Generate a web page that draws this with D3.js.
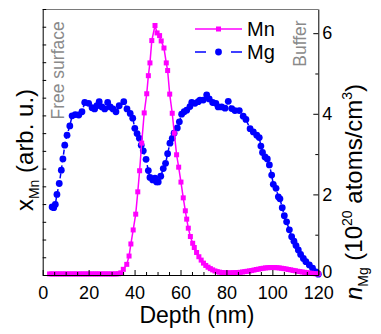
<!DOCTYPE html>
<html><head><meta charset="utf-8">
<script src="https://cdn.jsdelivr.net/npm/d3@7"></script>
<style>
body{margin:0;background:#fff;}
text{font-family:"Liberation Sans",Arial,Helvetica,sans-serif;}
</style>
</head><body>
<svg id="chart" width="381" height="334"></svg>
<script>
// ---------- data ----------
const mnDepth = [3,4,5,6,7,8,9,10,11,12,13,14,15,16,17,18,19,20,21,22,23,24,25,26,27,28,29,30,31,32,33,
  34,35.1,36.6,37.6,38.4,39.4,40.5,41.4,42.2,43.1,44.2,45.3,46.0,46.7,47.5,48.9,49.8,50.9,51.6,52.8,53.8,54.4,55.3,56.4,57.3,
  58.3,59.2,60.2,61.2,62.1,62.7,63.4,64.3,65.3,
  66,67,68,69,70,71,72,73,74,75,76,77,78,79,80,81,82,83,84,85,86,87,88,89,90,91,92,93,94,95,96,97,98,99,100,
  101,102,103,104,105,106,107,108,109,110,111,112,113,114,115,116,117,118,119,120];
const mnValue = [0.06,0.06,0.06,0.06,0.06,0.06,0.06,0.06,0.06,0.06,0.06,0.06,0.06,0.06,0.06,0.06,0.06,0.06,0.06,0.06,0.06,0.06,0.06,0.06,0.06,0.06,0.06,0.06,0.06,0.06,0.07,
  0.12,0.32,0.60,1.07,1.75,2.54,3.43,4.69,5.88,7.44,9.14,10.22,11.24,11.96,13.22,14.07,13.65,13.5,13.2,12.8,11.96,11.53,10.2,9.12,8.0,
  6.78,6.08,5.24,4.35,3.62,3.15,2.64,2.17,1.79,
  1.55,1.27,1.03,0.84,0.67,0.54,0.44,0.36,0.29,0.23,0.19,0.16,0.14,0.13,0.12,0.12,0.12,0.13,0.13,0.14,0.15,0.17,0.19,0.21,0.23,0.25,0.28,0.31,0.33,0.36,0.38,0.40,0.41,0.42,0.42,
  0.42,0.41,0.40,0.38,0.36,0.34,0.31,0.29,0.26,0.24,0.21,0.19,0.17,0.15,0.13,0.11,0.10,0.08,0.07,0.06];

const mgDepth = [4.1,4.8,5.5,6.2,7.2,8.1,8.8,9.6,10.6,11.8,12.8,14.2,15.7,17.1,18.3,20.0,21.5,22.6,23.6,24.6,
  25.8,27.0,28.3,29.4,30.6,31.9,33.3,35.3,36.7,38.1,39.2,40.1,41.1,42.1,42.9,43.8,45.0,46.0,46.7,47.9,
  48.9,49.6,50.3,51.4,52.5,53.5,54.4,55.4,56.4,57.2,58.6,59.5,60.5,61.6,62.7,64.1,64.9,66.3,67.7,68.5,
  69.9,71.4,72.5,74.0,75.4,76.4,77.9,79.4,80.8,82.3,83.7,85.6,87.3,88.5,90.3,91.7,93.2,94.3,95.0,95.7,
  96.8,97.8,98.7,99.7,100.4,101.6,102.6,103.3,104.3,105.2,106.2,107.4,108.4,109.4,110.3,111.3,112.3,113.5,114.6,116.1,
  117.5,119.0,120.0];
const mgValue = [1.69,1.67,1.75,2.00,2.27,2.60,2.88,3.22,3.47,3.70,3.95,3.98,3.97,4.05,4.28,4.26,4.15,4.12,4.20,4.30,
  4.17,4.12,4.28,4.17,4.12,4.05,4.20,4.30,4.12,4.01,3.89,3.64,3.51,3.39,3.22,3.08,2.87,2.59,2.42,2.36,
  2.40,2.31,2.31,2.45,2.64,2.77,3.01,3.27,3.39,3.52,3.65,3.80,3.99,4.05,4.09,4.18,4.28,4.26,4.30,4.34,
  4.34,4.47,4.37,4.28,4.26,4.17,4.17,4.14,4.31,4.13,4.08,4.08,3.94,3.86,3.63,3.55,3.47,3.41,3.20,3.04,
  2.93,2.88,2.73,2.48,2.25,2.15,1.94,1.89,1.67,1.47,1.32,1.12,0.95,0.84,0.73,0.62,0.51,0.41,0.33,0.25,
  0.17,0.08,0.02];

const xMajorTicks = [0,20,40,60,80,100,120];
const xMinorTicks = [5,10,15,25,30,35,45,50,55,65,70,75,85,90,95,105,110,115];
const leftTicks = [0,1,2,3,4,5,6,7,8,9,10,11,12,13,14,15];
const rightMajorTicks = [0,2,4,6];
const rightMinorTicks = [1,3,5];
const seriesNames = ["Mn","Mg"];

// ---------- layout ----------
const svg = d3.select("#chart");
const L = 42.7, R = 318.3, T = 9, B = 275;
const x = d3.scaleLinear().domain([0,120]).range([L,R]);
const yL = d3.scaleLinear().domain([0,15]).range([B,T]);
const yR = d3.scaleLinear().domain([0,6.6]).range([B,T]);
const MN = "#ff00ff", MG = "#0000ff";

// top frame line
svg.append("line").attr("x1",L).attr("x2",R).attr("y1",T+0.5).attr("y2",T+0.5)
  .attr("stroke","#7a7a7a").attr("stroke-width",1);

// annotations
svg.append("text").attr("transform",`translate(64,119.5) rotate(-90)`)
  .attr("font-size",17.5).attr("fill","#8a8a8a").text("Free surface");
svg.append("text").attr("transform",`translate(306,66.7) rotate(-90)`)
  .attr("font-size",17.5).attr("fill","#8a8a8a").text("Buffer");

// Mg series (right axis)
const mgData = mgDepth.map((d,i)=>[d,mgValue[i]]);
svg.append("path").datum(mgData)
  .attr("d", d3.line().x(d=>x(d[0])).y(d=>yR(d[1])))
  .attr("fill","none").attr("stroke",MG).attr("stroke-width",1.5).attr("stroke-dasharray","5,3");
svg.append("g").selectAll("circle").data(mgData).join("circle")
  .attr("cx",d=>x(d[0])).attr("cy",d=>yR(d[1])).attr("r",3.4).attr("fill",MG);

// Mn series (left axis)
const mnData = mnDepth.map((d,i)=>[d,mnValue[i]]);
svg.append("path").datum(mnData)
  .attr("d", d3.line().x(d=>x(d[0])).y(d=>yL(d[1])))
  .attr("fill","none").attr("stroke",MN).attr("stroke-width",1.5);
svg.append("g").selectAll("rect").data(mnData).join("rect")
  .attr("x",d=>x(d[0])-2.5).attr("y",d=>yL(d[1])-2.5).attr("width",5).attr("height",5).attr("fill",MN);

// axes
function styleAxis(g){ g.selectAll("path,line").attr("stroke","#000"); g.selectAll("text").attr("fill","#000"); }
const gxMinor = svg.append("g").attr("transform",`translate(0,${B})`)
  .call(d3.axisBottom(x).tickValues(xMinorTicks).tickSizeInner(-3).tickSizeOuter(0).tickFormat(""));
gxMinor.select(".domain").remove();
const gx = svg.append("g").attr("transform",`translate(0,${B})`)
  .call(d3.axisBottom(x).tickValues(xMajorTicks).tickSizeInner(-5).tickSizeOuter(0).tickPadding(11).tickFormat(d3.format("d")));
gx.selectAll("text").attr("font-size",18).attr("font-family","Liberation Sans, Arial, sans-serif");
styleAxis(gx); styleAxis(gxMinor);

const gl = svg.append("g").attr("transform",`translate(${L},0)`)
  .call(d3.axisLeft(yL).tickValues(leftTicks).tickSizeInner(-3.5).tickSizeOuter(0).tickFormat(""));
styleAxis(gl);

const grMinor = svg.append("g").attr("transform",`translate(${R},0)`)
  .call(d3.axisRight(yR).tickValues(rightMinorTicks).tickSizeInner(-3).tickSizeOuter(0).tickFormat(""));
grMinor.select(".domain").remove();
const gr = svg.append("g").attr("transform",`translate(${R},0)`)
  .call(d3.axisRight(yR).tickValues(rightMajorTicks).tickSizeInner(-5).tickSizeOuter(0).tickPadding(4).tickFormat(d3.format("d")));
gr.selectAll("text").attr("font-size",18).attr("font-family","Liberation Sans, Arial, sans-serif")
  .attr("dy", d => d === 0 ? "0.12em" : "0.32em");
styleAxis(gr); styleAxis(grMinor);

// axis titles
svg.append("text").attr("x",197).attr("y",323).attr("text-anchor","middle")
  .attr("font-size",23).text("Depth (nm)");

const lt = svg.append("text").attr("transform",`translate(33,150) rotate(-90)`)
  .attr("text-anchor","middle").attr("font-size",24);
lt.append("tspan").text("x");
lt.append("tspan").attr("font-size",14).attr("dy",6).text("Mn");
lt.append("tspan").attr("dy",-6).text(" (arb. u.)");

const rt = svg.append("text").attr("transform",`translate(362,192) rotate(-90)`)
  .attr("text-anchor","middle").attr("font-size",24);
rt.append("tspan").attr("font-style","italic").text("n");
rt.append("tspan").attr("font-size",14).attr("dy",6).text("Mg");
rt.append("tspan").attr("dy",-6).text(" (10");
rt.append("tspan").attr("font-size",14).attr("dy",-10).text("20");
rt.append("tspan").attr("dy",10).text(" atoms/cm");
rt.append("tspan").attr("font-size",14).attr("dy",-10).text("3");
rt.append("tspan").attr("dy",10).text(")");

// legend
const lg = svg.append("g");
lg.append("line").attr("x1",195).attr("x2",242).attr("y1",29).attr("y2",29)
  .attr("stroke",MN).attr("stroke-width",1.5);
lg.append("rect").attr("x",218.5-2.5).attr("y",29-2.5).attr("width",5).attr("height",5).attr("fill",MN);
lg.append("text").attr("x",247).attr("y",36).attr("font-size",20).text(seriesNames[0]);
lg.append("line").attr("x1",195).attr("x2",206).attr("y1",52).attr("y2",52)
  .attr("stroke",MG).attr("stroke-width",1.5);
lg.append("line").attr("x1",231).attr("x2",242).attr("y1",52).attr("y2",52)
  .attr("stroke",MG).attr("stroke-width",1.5);
lg.append("circle").attr("cx",218.5).attr("cy",52).attr("r",3.4).attr("fill",MG);
lg.append("text").attr("x",247).attr("y",59).attr("font-size",20).text(seriesNames[1]);
</script>
</body></html>
